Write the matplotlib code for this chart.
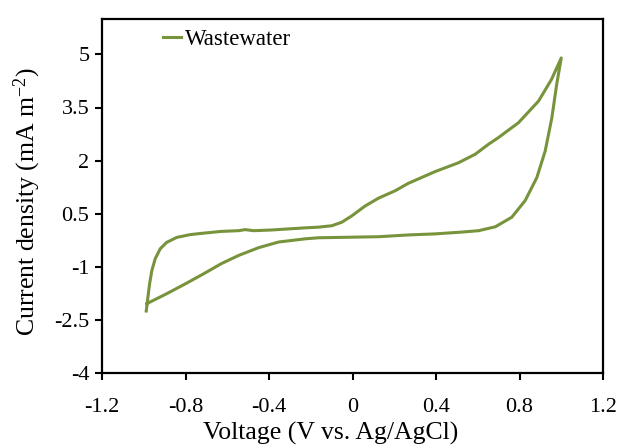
import matplotlib
matplotlib.use("Agg")
import matplotlib.pyplot as plt

plt.rcParams["font.family"] = ["Liberation Serif", "DejaVu Serif"]
plt.rcParams["axes.unicode_minus"] = False
plt.rcParams["mathtext.default"] = "regular"

# Forward (anodic) sweep, -1.0 V -> 1.0 V
volt_fwd = [-0.988, -0.982, -0.972, -0.961, -0.945, -0.921, -0.890, -0.842, -0.777, -0.714,
            -0.628, -0.546, -0.514, -0.474, -0.388, -0.227, -0.163, -0.099, -0.051, -0.003,
            0.061, 0.125, 0.205, 0.268, 0.396, 0.508, 0.588, 0.651, 0.699, 0.795,
            0.891, 0.953, 1.0]
curr_fwd = [-2.25, -1.95, -1.48, -1.10, -0.77, -0.49, -0.31, -0.17, -0.09, -0.05,
            0.0, 0.02, 0.05, 0.02, 0.04, 0.10, 0.12, 0.16, 0.26, 0.44,
            0.72, 0.94, 1.15, 1.36, 1.69, 1.94, 2.18, 2.46, 2.65, 3.07,
            3.68, 4.29, 4.9]

# Reverse (cathodic) sweep, 1.0 V -> -1.0 V
volt_rev = [1.0, 0.978, 0.955, 0.923, 0.883, 0.827, 0.763, 0.684, 0.604, 0.522,
            0.396, 0.268, 0.125, -0.067, -0.163, -0.227, -0.354, -0.45, -0.546, -0.628,
            -0.714, -0.794, -0.890, -0.985]
curr_rev = [4.9, 4.15, 3.21, 2.27, 1.52, 0.87, 0.40, 0.13, 0.02, -0.02,
            -0.07, -0.10, -0.15, -0.17, -0.18, -0.21, -0.30, -0.46, -0.68, -0.91,
            -1.20, -1.46, -1.76, -2.04]

x_ticks = [-1.2, -0.8, -0.4, 0, 0.4, 0.8, 1.2]
x_labels = ["-1.2", "-0.8", "-0.4", "0", "0.4", "0.8", "1.2"]
y_ticks = [-4, -2.5, -1, 0.5, 2, 3.5, 5]
y_labels = ["-4", "-2.5", "-1", "0.5", "2", "3.5", "5"]

fig = plt.figure(figsize=(6.28, 4.46), dpi=100)
ax = fig.add_axes([102 / 628, 73 / 446, 501 / 628, 354 / 446])

ax.plot(volt_fwd + volt_rev, curr_fwd + curr_rev, color="#77933C", lw=2.2,
        solid_joinstyle="round", label="Wastewater")

ax.set_xlim(-1.2, 1.2)
ax.set_ylim(-4, 6)
ax.set_xticks(x_ticks)
ax.set_xticklabels(x_labels)
ax.set_yticks(y_ticks)
ax.set_yticklabels(y_labels)
ax.tick_params(direction="out", length=5, width=1.5, labelsize=16)
ax.tick_params(axis="x", pad=13)
ax.tick_params(axis="y", pad=4)
for s in ax.spines.values():
    s.set_linewidth(1.6)

ax.set_xlabel("Voltage (V vs. Ag/AgCl)", fontsize=18.5)
ax.set_ylabel("Current density (mA m$^{-2}$)", fontsize=18.5)
ax.xaxis.set_label_coords(0.457, -0.138)
ax.yaxis.set_label_coords(-0.118, 0.483)

ax.legend(loc="center left", bbox_to_anchor=(0.122, 0.941), frameon=False,
          fontsize=16.5, handlelength=0.8, handletextpad=0.15, borderpad=0,
          borderaxespad=0)

fig.savefig("out.png", dpi=100)
